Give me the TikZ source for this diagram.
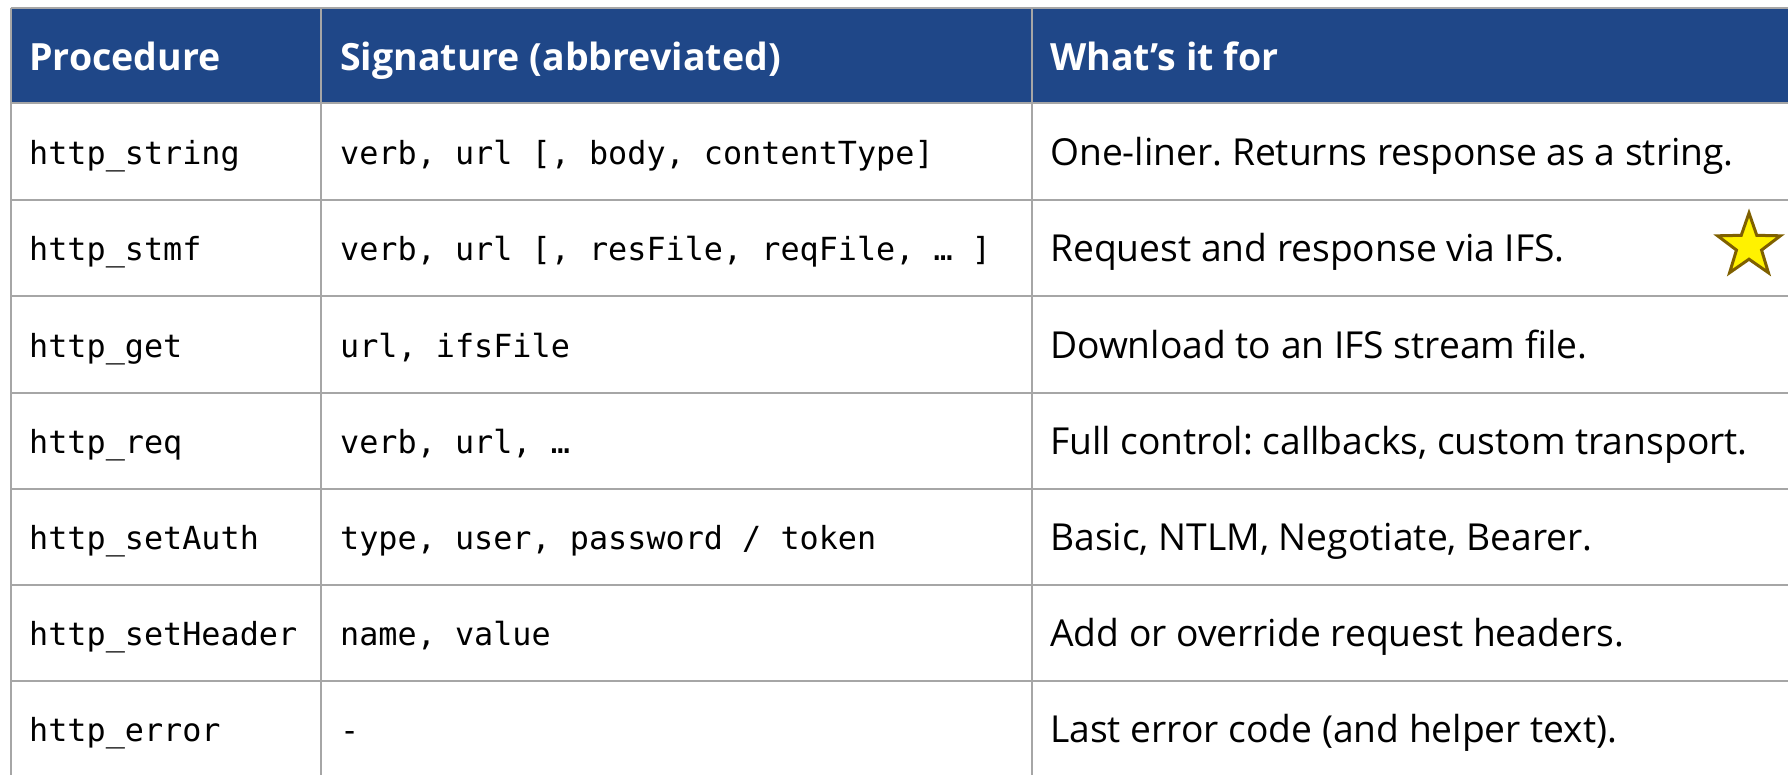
\documentclass[tikz,border=0pt]{standalone}
\usepackage{fontspec}
\setmainfont{Open Sans}
\newfontfamily\monofont{DejaVu Sans Mono}
\usetikzlibrary{shapes.geometric}
\definecolor{hdrblue}{HTML}{1F4788}
\definecolor{gridgray}{HTML}{A6A6A6}
\definecolor{stargold}{HTML}{7F6000}
\frenchspacing
\begin{document}
\begin{tikzpicture}[x=1pt,y=-1pt,
  hdrtext/.style={anchor=base west,inner sep=0pt,text=white,font=\fontsize{37.5}{42}\selectfont\bfseries},
  monotext/.style={anchor=base west,inner sep=0pt,font=\fontsize{31.8}{36}\selectfont\monofont},
  desctext/.style={anchor=base west,inner sep=0pt,font=\fontsize{37.2}{42}\selectfont},
  gridline/.style={draw=gridgray,line width=2pt},
  starmark/.style={star,star points=5,star point ratio=2.5,minimum size=66pt,inner sep=0pt,fill=yellow,draw=stargold,line width=3pt}]
\useasboundingbox (0,0) rectangle (1788,774);
\fill[hdrblue] (10.5,7.5) rectangle (1792,103);
\foreach \y in {7.5,103,199.5,296,392.5,488.5,584.5,681}
  \draw[gridline] (10.5,\y) -- (1792,\y);
\foreach \x in {10.5,320.7,1031.7}
  \draw[gridline] (\x,7.5) -- (\x,780);
% header
\node[hdrtext] (h1) at (29,70) {Procedure};
\node[hdrtext] (h2) at (340,70) {Signature (abbreviated)};
\node[hdrtext] (h3) at (1050,70) {What’s it for};
% rows
\node[monotext] (p1) at (29,164) {http\_string};
\node[monotext] (s1) at (340,164) {verb, url [, body, contentType]};
\node[desctext] (d1) at (1050,165) {One-liner. Returns response as a string.};
\node[monotext] (p2) at (29,260.5) {http\_stmf};
\node[monotext] (s2) at (340,260.5) {verb, url [, resFile, reqFile, … ]};
\node[desctext] (d2) at (1050,261.5) {Request and response via IFS.};
\node[monotext] (p3) at (29,357) {http\_get};
\node[monotext] (s3) at (340,357) {url, ifsFile};
\node[desctext] (d3) at (1050,358) {Download to an IFS stream file.};
\node[monotext] (p4) at (29,453) {http\_req};
\node[monotext] (s4) at (340,453) {verb, url, …};
\node[desctext] (d4) at (1050,454) {Full control: callbacks, custom transport.};
\node[monotext] (p5) at (29,549) {http\_setAuth};
\node[monotext] (s5) at (340,549) {type, user, password / token};
\node[desctext] (d5) at (1050,550) {Basic, NTLM, Negotiate, Bearer.};
\node[monotext] (p6) at (29,645.5) {http\_setHeader};
\node[monotext] (s6) at (340,645.5) {name, value};
\node[desctext] (d6) at (1050,646.5) {Add or override request headers.};
\node[monotext] (p7) at (29,741.5) {http\_error};
\node[monotext] (s7) at (340,741.5) {-};
\node[desctext] (d7) at (1050,742.5) {Last error code (and helper text).};
% star
\node[starmark] (star) at (1749,246) {};
\end{tikzpicture}
\end{document}
